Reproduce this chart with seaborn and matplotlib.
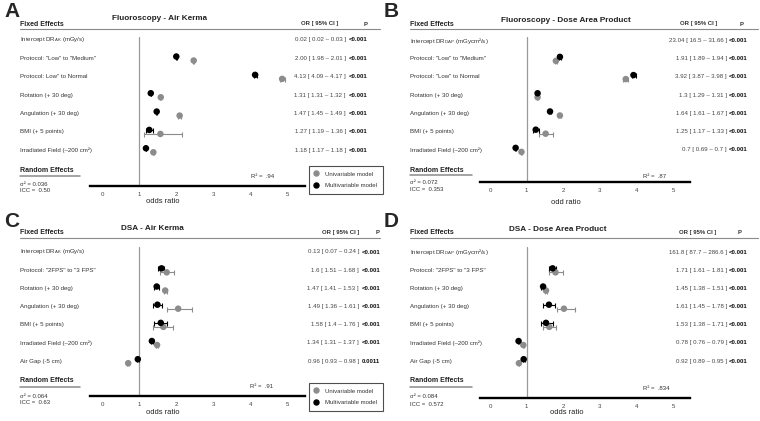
import numpy as np
import pandas as pd
import matplotlib
matplotlib.use("Agg")
import matplotlib.pyplot as plt
import seaborn as sns
from matplotlib.transforms import blended_transform_factory
from matplotlib.lines import Line2D

# ---------------- data ----------------
A_title = "Fluoroscopy - Air Kerma"
A_terms = ["Intercept DR$_{AK}$ (mGy/s)", 'Protocol: "Low" to "Medium"', 'Protocol: Low" to Normal',
           "Rotation (+ 30 deg)", "Angulation (+ 30 deg)", "BMI (+ 5 points)", "Irradiated Field (\u2013200 cm\u00b2)"]
A_or_txt = ["0.02 [ 0.02 \u2013 0.03 ]", "2.00 [ 1.98 \u2013 2.01 ]", "4.13 [ 4.09 \u2013 4.17 ]", "1.31 [ 1.31 \u2013 1.32 ]",
            "1.47 [ 1.45 \u2013 1.49 ]", "1.27 [ 1.19 \u2013 1.36 ]", "1.18 [ 1.17 \u2013 1.18 ]"]
A_p = ["<0.001"] * 7
A_multi = [0.02, 2.00, 4.13, 1.31, 1.47, 1.27, 1.18]
A_mlo = [0.02, 1.98, 4.09, 1.31, 1.45, 1.19, 1.17]
A_mhi = [0.03, 2.01, 4.17, 1.32, 1.49, 1.36, 1.18]
A_uni = [np.nan, 2.47, 4.86, 1.58, 2.09, 1.57, 1.38]
A_ulo = [np.nan, 2.45, 4.79, 1.57, 2.05, 1.12, 1.37]
A_uhi = [np.nan, 2.49, 4.93, 1.59, 2.13, 2.15, 1.39]
A_sigma, A_icc, A_r2 = "0.036", "0.50", ".94"

B_title = "Fluoroscopy - Dose Area Product"
B_terms = ["Intercept DR$_{DAP}$ (mGycm\u00b2/s)", 'Protocol: "Low" to "Medium"', 'Protocol: "Low" to Normal',
           "Rotation (+ 30 deg)", "Angulation (+ 30 deg)", "BMI (+ 5 points)", "Irradiated Field (\u2013200 cm\u00b2)"]
B_or_txt = ["23.04 [ 16.5 \u2013 31.66 ]", "1.91 [ 1.89 \u2013 1.94 ]", "3.92 [ 3.87 \u2013 3.98 ]", "1.3 [ 1.29 \u2013 1.31 ]",
            "1.64 [ 1.61 \u2013 1.67 ]", "1.25 [ 1.17 \u2013 1.33 ]", "0.7 [ 0.69 \u2013 0.7 ]"]
B_p = ["<0.001"] * 7
B_multi = [23.04, 1.91, 3.92, 1.30, 1.64, 1.25, 0.70]
B_mlo = [16.5, 1.89, 3.87, 1.29, 1.61, 1.17, 0.69]
B_mhi = [31.66, 1.94, 3.98, 1.31, 1.67, 1.33, 0.70]
B_uni = [np.nan, 1.80, 3.71, 1.30, 1.91, 1.52, 0.86]
B_ulo = [np.nan, 1.78, 3.64, 1.29, 1.87, 1.34, 0.85]
B_uhi = [np.nan, 1.82, 3.78, 1.31, 1.95, 1.72, 0.87]
B_sigma, B_icc, B_r2 = "0.072", "0.353", ".87"

C_title = "DSA - Air Kerma"
C_terms = ["Intercept DR$_{AK}$ (mGy/s)", 'Protocol: "2FPS" to "3 FPS"', "Rotation (+ 30 deg)",
           "Angulation (+ 30 deg)", "BMI (+ 5 points)", "Irradiated Field (\u2013200 cm\u00b2)", "Air Gap (-5 cm)"]
C_or_txt = ["0.13 [ 0.07 \u2013 0.24 ]", "1.6 [ 1.51 \u2013 1.68 ]", "1.47 [ 1.41 \u2013 1.53 ]", "1.49 [ 1.36 \u2013 1.61 ]",
            "1.58 [ 1.4 \u2013 1.76 ]", "1.34 [ 1.31 \u2013 1.37 ]", "0.96 [ 0.93 \u2013 0.98 ]"]
C_p = ["<0.001"] * 6 + ["0.0011"]
C_multi = [0.13, 1.60, 1.47, 1.49, 1.58, 1.34, 0.96]
C_mlo = [0.07, 1.51, 1.41, 1.36, 1.40, 1.31, 0.93]
C_mhi = [0.24, 1.68, 1.53, 1.61, 1.76, 1.37, 0.98]
C_uni = [np.nan, 1.74, 1.70, 2.05, 1.65, 1.48, 0.70]
C_ulo = [np.nan, 1.56, 1.66, 1.74, 1.36, 1.46, 0.68]
C_uhi = [np.nan, 1.95, 1.74, 2.43, 1.92, 1.50, 0.72]
C_sigma, C_icc, C_r2 = "0.064", "0.63", ".91"

D_title = "DSA - Dose Area Product"
D_terms = ["Intercept DR$_{DAP}$ (mGycm\u00b2/s)", 'Protocol: "2FPS" to "3 FPS"', "Rotation (+ 30 deg)",
           "Angulation (+ 30 deg)", "BMI (+ 5 points)", "Irradiated Field (\u2013200 cm\u00b2)", "Air Gap (-5 cm)"]
D_or_txt = ["161.8 [ 87.7 \u2013 286.6 ]", "1.71 [ 1.61 \u2013 1.81 ]", "1.45 [ 1.38 \u2013 1.51 ]", "1.61 [ 1.45 \u2013 1.78 ]",
            "1.53 [ 1.38 \u2013 1.71 ]", "0.78 [ 0.76 \u2013 0.79 ]", "0.92 [ 0.89 \u2013 0.95 ]"]
D_p = ["<0.001"] * 7
D_multi = [161.8, 1.71, 1.45, 1.61, 1.53, 0.78, 0.92]
D_mlo = [87.7, 1.61, 1.38, 1.45, 1.38, 0.76, 0.89]
D_mhi = [286.6, 1.81, 1.51, 1.78, 1.71, 0.79, 0.95]
D_uni = [np.nan, 1.79, 1.53, 2.02, 1.62, 0.91, 0.79]
D_ulo = [np.nan, 1.60, 1.50, 1.82, 1.45, 0.90, 0.78]
D_uhi = [np.nan, 2.00, 1.56, 2.32, 1.80, 0.92, 0.80]
D_sigma, D_icc, D_r2 = "0.084", "0.572", ".834"

x_ticks = [0, 1, 2, 3, 4, 5]
models = ["Univariable model", "Multivariable model"]

# ---------------- style ----------------
sns.set_style("white")
plt.rcParams['font.family'] = ['Liberation Sans', 'DejaVu Sans']
plt.rcParams['mathtext.default'] = 'regular'

W, H = 760, 421
fig = plt.figure(figsize=(7.6, 4.21), dpi=100)


def fx(x):
    return x / W


def fy(y):
    return 1 - y / H


GRAY = "#8c8c8c"
TXT = "#333333"
palette = {models[0]: GRAY, models[1]: "#000000"}


def hline(x1, x2, y, color="#9a9a9a", lw=0.8):
    fig.add_artist(Line2D([fx(x1), fx(x2)], [fy(y), fy(y)], transform=fig.transFigure, color=color, lw=lw))


def draw_panel(cfg, title, terms, or_txt, p_txt, multi, mlo, mhi, uni, ulo, uhi, sigma, icc, r2, xlabel):
    L, R, T, Bt = cfg['ax_l'], cfg['ax_r'], cfg['ax_t'], cfg['ax_b']
    ax = fig.add_axes([fx(L), fy(Bt), (R - L) / W, (Bt - T) / H])
    tick0, unit, row0, sp = cfg['tick0'], cfg['unit'], cfg['row0'], cfg['sp']
    ax.set_xlim((L - tick0) / unit, (R - tick0) / unit)
    n = len(terms)
    rows = np.arange(n)

    # long dataframe (skip intercept row, which is off-scale)
    recs = []
    for m, vals, lo, hi, dy in [(models[0], uni, ulo, uhi, 0.12), (models[1], multi, mlo, mhi, -0.1)]:
        for i in rows[1:]:
            if not np.isnan(vals[i]):
                recs.append(dict(model=m, OR=vals[i], lo=lo[i], hi=hi[i], pos=i + dy))
    df = pd.DataFrame(recs)
    for m in models:
        d = df[df.model == m]
        ax.errorbar(d.OR, d.pos, xerr=[d.OR - d.lo, d.hi - d.OR], fmt='none', ecolor=palette[m],
                    elinewidth=0.8, capsize=1.8, capthick=0.8, zorder=2)
    sns.scatterplot(data=df, x="OR", y="pos", hue="model", palette=palette, s=22, linewidth=0,
                    legend=False, ax=ax, zorder=3)
    ax.set_ylim((Bt - row0) / sp, (T - row0) / sp)
    ax.set_ylabel("")
    ax.set_yticks([])
    ax.set_xticks(x_ticks)
    ax.tick_params(axis='x', length=0, pad=4, labelsize=4.4, labelcolor="#444444")
    for s in ['top', 'right', 'left']:
        ax.spines[s].set_visible(False)
    ax.spines['bottom'].set_linewidth(1.7)
    ax.spines['bottom'].set_color('black')
    ax.axvline(1, color="#9a9a9a", lw=0.9, zorder=1)
    ax.set_xlabel(xlabel, fontsize=5.4, color="#222222")
    ax.xaxis.set_label_coords((cfg['xlab_x'] - L) / (R - L), -(cfg['xlab_y'] - Bt) / (Bt - T))
    ax.xaxis.label.set_va('center')

    tr = blended_transform_factory(fig.transFigure, ax.transData)
    for i in rows:
        ax.text(fx(cfg['lab_x']), i, terms[i], transform=tr, ha='left', va='center', fontsize=4.4, color=TXT)
        ax.text(fx(cfg['or_r']), i, or_txt[i], transform=tr, ha='right', va='center', fontsize=4.4, color="#444444")
        ax.text(fx(cfg['p_l']), i, p_txt[i], transform=tr, ha='left', va='center', fontsize=4.4,
                color="#111111", fontweight='bold')

    # headers and panel annotations
    fig.text(fx(cfg['letter'][0]), fy(cfg['letter'][1]), cfg['name'], fontsize=15, fontweight='bold',
             ha='left', va='top')
    fig.text(fx(cfg['title'][0]), fy(cfg['title'][1]), title, fontsize=5.9, fontweight='bold',
             ha='center', va='center', color="#222222")
    fig.text(fx(cfg['lab_x']), fy(cfg['hdr_y']), "Fixed Effects", fontsize=5.0, fontweight='bold',
             ha='left', va='center', color="#222222")
    fig.text(fx(cfg['or_hdr']), fy(cfg['hdr_y']), "OR [ 95% CI ]", fontsize=4.3, fontweight='bold',
             ha='center', va='center', color="#333333")
    fig.text(fx(cfg['p_hdr']), fy(cfg['hdr_y']), "P", fontsize=4.3, fontweight='bold',
             ha='center', va='center', color="#333333")
    hline(cfg['hdr_line'][0], cfg['hdr_line'][1], cfg['hdr_line'][2], color="#8a8a8a", lw=0.8)
    fig.text(fx(cfg['lab_x']), fy(cfg['re_y']), "Random Effects", fontsize=5.0, fontweight='bold',
             ha='left', va='center', color="#222222")
    hline(cfg['lab_x'], cfg['re_x2'], cfg['re_y'] + 5.5, color="#8a8a8a", lw=1.1)
    fig.text(fx(cfg['lab_x']), fy(cfg['sig_y']), "\u03c3\u00b2 = " + sigma, fontsize=4.3,
             ha='left', va='center', color=TXT)
    fig.text(fx(cfg['lab_x']), fy(cfg['sig_y'] + 7), "ICC =  " + icc, fontsize=4.3,
             ha='left', va='center', color=TXT)
    fig.text(fx(cfg['r2'][0]), fy(cfg['r2'][1]), "R\u00b2 =  " + r2, fontsize=4.3,
             ha='left', va='center', color=TXT)

    if cfg.get('legend') is not None:
        handles = [Line2D([], [], marker='o', ls='', color=palette[m], markersize=3.6) for m in models]
        leg = ax.legend(handles, models, loc='upper left', bbox_to_anchor=(fx(cfg['legend'][0]), fy(cfg['legend'][1])),
                        bbox_transform=fig.transFigure, fontsize=4.3, frameon=True, fancybox=False,
                        edgecolor="#222222", handlelength=0.6, handletextpad=1.2, borderpad=0.9,
                        labelspacing=1.1, borderaxespad=0)
        leg.get_frame().set_linewidth(0.8)
        for t in leg.get_texts():
            t.set_color(TXT)
    return ax


cfgA = dict(name="A", letter=(4, 2), title=(160, 19), hdr_y=24, lab_x=20, or_r=346, p_l=349, or_hdr=320,
            p_hdr=366, hdr_line=(20, 380, 29), row0=40, sp=18.35, ax_l=90, ax_r=305, tick0=102.3, unit=37.0,
            ax_t=37, ax_b=186, re_y=171, re_x2=80, sig_y=184, r2=(251, 176), xlab_x=163, xlab_y=202,
            legend=(309, 166))
cfgB = dict(name="B", letter=(384, 2), title=(566, 21), hdr_y=24, lab_x=410, or_r=727, p_l=729, or_hdr=699,
            p_hdr=742, hdr_line=(410, 758, 29), row0=40.5, sp=18.2, ax_l=480, ax_r=690, tick0=490, unit=36.6,
            ax_t=37, ax_b=182, re_y=170, re_x2=472, sig_y=183, r2=(643, 176), xlab_x=566, xlab_y=203,
            legend=None)
cfgC = dict(name="C", letter=(4, 212), title=(152, 228), hdr_y=233, lab_x=20, or_r=359, p_l=362, or_hdr=341,
            p_hdr=378, hdr_line=(20, 380, 238), row0=252, sp=18.17, ax_l=90, ax_r=305, tick0=102.3, unit=37.0,
            ax_t=247, ax_b=396, re_y=381, re_x2=80, sig_y=396, r2=(250, 387), xlab_x=163, xlab_y=413,
            legend=(309, 383))
cfgD = dict(name="D", letter=(384, 212), title=(558, 229), hdr_y=233, lab_x=410, or_r=727, p_l=729, or_hdr=698,
            p_hdr=740, hdr_line=(410, 758, 238), row0=252, sp=18.17, ax_l=480, ax_r=690, tick0=490, unit=36.6,
            ax_t=247, ax_b=398, re_y=381, re_x2=472, sig_y=397, r2=(643, 389), xlab_x=567, xlab_y=413,
            legend=None)

draw_panel(cfgA, A_title, A_terms, A_or_txt, A_p, A_multi, A_mlo, A_mhi, A_uni, A_ulo, A_uhi,
           A_sigma, A_icc, A_r2, "odds ratio")
draw_panel(cfgB, B_title, B_terms, B_or_txt, B_p, B_multi, B_mlo, B_mhi, B_uni, B_ulo, B_uhi,
           B_sigma, B_icc, B_r2, "odd ratio")
draw_panel(cfgC, C_title, C_terms, C_or_txt, C_p, C_multi, C_mlo, C_mhi, C_uni, C_ulo, C_uhi,
           C_sigma, C_icc, C_r2, "odds ratio")
draw_panel(cfgD, D_title, D_terms, D_or_txt, D_p, D_multi, D_mlo, D_mhi, D_uni, D_ulo, D_uhi,
           D_sigma, D_icc, D_r2, "odds ratio")

fig.savefig("out.png", dpi=100)
